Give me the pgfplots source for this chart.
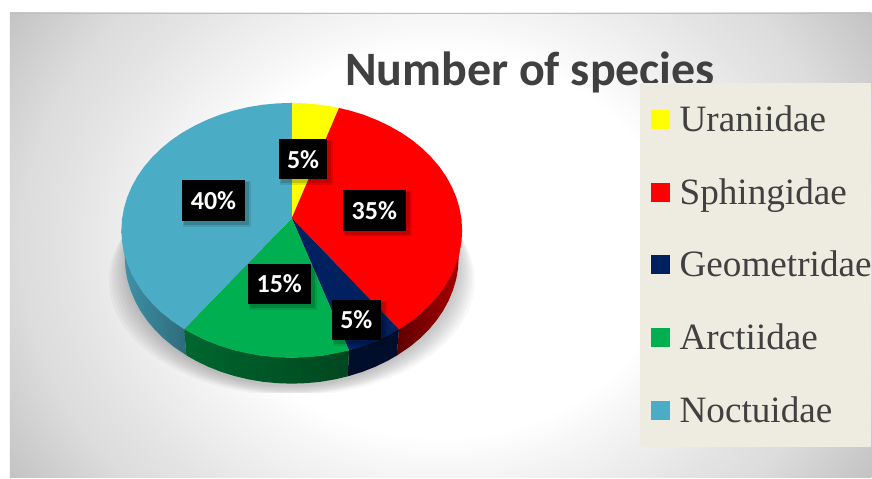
\documentclass[border=0pt]{standalone}
\usepackage{fontspec}
\setmainfont{Liberation Serif}
\newfontfamily\calibri{Carlito}
\usepackage{pgfplots}
\pgfplotsset{compat=1.18}

\definecolor{cYel}{HTML}{FFFF00}
\definecolor{cRed}{HTML}{FF0000}
\definecolor{cNavy}{HTML}{002060}
\definecolor{cGreen}{HTML}{00B050}
\definecolor{cBlue}{HTML}{4BACC6}
\definecolor{cText}{HTML}{404040}
\definecolor{cLegend}{HTML}{EEEBE0}
\definecolor{sRedL}{HTML}{5E0000}
\definecolor{sRedR}{HTML}{AA0000}

% the path's box is the middle 50bp of the shading, so its edge sits at 25bp
\pgfdeclareradialshading{bgshade}{\pgfpoint{0bp}{0bp}}{%
  rgb(0bp)=(1,1,1); rgb(9.6bp)=(1,1,1); rgb(11.25bp)=(.965,.965,.965);
  rgb(15.3bp)=(.894,.894,.894); rgb(17.5bp)=(.863,.863,.863);
  rgb(21.25bp)=(.769,.769,.769); rgb(23.3bp)=(.72,.72,.72);
  rgb(25bp)=(.70,.70,.70); rgb(50bp)=(.70,.70,.70)}

\newcommand{\lab}[5]{% x0 y0 x1 y1 text
  \fill[black,opacity=.10] (axis cs:#1+1,#2+1) rectangle (axis cs:#3+6,#4+6);
  \fill[black,opacity=.15] (axis cs:#1+2,#2+2) rectangle (axis cs:#3+4,#4+4);
  \fill[black] (axis cs:#1,#2) rectangle (axis cs:#3,#4);
  \node[text=white,font=\calibri\bfseries\fontsize{26}{28}\selectfont,inner sep=0pt]
    at (axis cs:{(#1+#3)/2},{(#2+#4)/2}) {#5};
}
\newcommand{\leg}[3]{% swatch top, colour, name
  \fill[#2] (axis cs:652,#1) rectangle (axis cs:671,#1+19);
  \node[anchor=base west,inner sep=0pt,text=cText,font=\fontsize{37.2}{40}\selectfont]
    at (axis cs:680,#1+21.5) {#3};
}
\newcommand{\shad}[3]{% rx ry cy
  \fill[black,opacity=.03] (axis cs:292,#3) ellipse [x radius=#1pt, y radius=#2pt];
}

\begin{document}
\begin{tikzpicture}
\begin{axis}[
    scale only axis,
    width=872pt, height=479pt,
    xmin=0, xmax=872, ymin=0, ymax=479,
    y dir=reverse,
    hide axis,
    clip=false,
    no marks,
  ]
  % page and background
  \fill[white] (axis cs:0,0) rectangle (axis cs:872,479);
  \begin{scope}
    \clip (axis cs:10,13) rectangle (axis cs:872,478);
    \shade[shading=bgshade] (axis cs:440,245) ellipse [x radius=600pt, y radius=500pt];
  \end{scope}
  \draw[color=black!25,line width=1.5pt] (axis cs:10,13.5) -- (axis cs:872,13.5);

  % title goes under the legend box
  \node[anchor=base,inner sep=0pt,text=cText,font=\calibri\bfseries\fontsize{48}{52}\selectfont]
    at (axis cs:530.5,86) {Number of species};
  \fill[cLegend] (axis cs:641,83) rectangle (axis cs:872,447);

  % soft shadow under the pie
  \begin{scope}
    \clip (axis cs:90,230) rectangle (axis cs:490,393);
    \shad{183}{115}{281}
    \shad{180.5}{116.5}{278}
    \shad{178}{118}{275.5}
    \shad{175.5}{119.5}{273}
    \shad{173}{121}{270.5}
    \shad{170.5}{122}{268}
    \shad{168}{123.5}{265}
    \shad{165}{125}{262}
  \end{scope}

  % side walls
  \addplot[draw=none,left color=sRedL,right color=sRedR] coordinates {
    (462.5,230.5) (459.9,252.6) (452.2,274.1) (439.7,294.25) (422.6,312.5) (399.3,329.6)
    (397.1,355.9) (410.1,347.1) (419.9,339) (428.8,330.3) (436.6,321) (443.4,311.2)
    (448.9,301.1) (453.3,290.6) (456.5,279.9) (458.4,269) (459,258)
  } -- cycle;
  \addplot[draw=none,fill=cNavy!45!black] coordinates {
    (399.3,329.6) (377.25,340.9) (349.3,350.6)
    (348,376.7) (362.6,372.2) (375.5,367.1) (387.8,361.2) (397.1,355.9)
  } -- cycle;
  \addplot[draw=none,left color=cGreen!58!black,right color=cGreen!40!black] coordinates {
    (349.3,350.6) (321.6,356.1) (292,358) (262.4,356.1) (233.7,350.3) (206.75,340.9) (184.3,329.3)
    (186.5,355.6) (196.2,361.2) (208.5,367.1) (221.4,372.2) (234.9,376.4) (248.8,379.7)
    (263,382.1) (277.4,383.5) (292,384) (306.6,383.5) (321,382.1) (335.2,379.7) (348,376.7)
  } -- cycle;
  \addplot[draw=none,left color=cBlue!85!black,right color=cBlue!62!black] coordinates {
    (184.3,329.3) (161.4,312.5) (144.3,294.25) (131.8,274.1) (124.1,252.6) (121.5,230.5)
    (125,258) (125.6,269) (127.5,279.9) (130.7,290.6) (135.1,301.1) (140.6,311.2) (147.4,321)
    (155.2,330.3) (164.1,339) (173.9,347.1) (186.5,355.6)
  } -- cycle;

  % top face: Uraniidae 5, Sphingidae 35, Geometridae 5, Arctiidae 15, Noctuidae 40
  \addplot[draw=none,fill=cYel] coordinates {
    (292,218.3) (292,103) (306.9,103.5) (321.6,104.9) (336.1,107.3) (339.3,108)
  } -- cycle;
  \addplot[draw=none,fill=cRed] coordinates {
    (292,218.3) (339.3,108) (350.3,110.7) (364.1,114.9) (377.25,120.1) (389.8,126.1)
    (401.6,132.8) (412.6,140.3) (422.6,148.5) (431.7,157.4) (439.7,166.75) (446.5,176.6)
    (452.2,186.9) (456.7,197.5) (459.9,208.4) (461.9,219.4) (462.5,230.5) (461.9,241.6)
    (459.9,252.6) (456.7,263.5) (452.2,274.1) (446.5,284.4) (439.7,294.25) (431.7,303.6)
    (422.6,312.5) (412.6,320.7) (401.6,328.2) (399.3,329.6)
  } -- cycle;
  \addplot[draw=none,fill=cNavy] coordinates {
    (292,218.3) (399.3,329.6) (389.8,334.9) (377.25,340.9) (364.1,346.1) (349.3,350.6)
  } -- cycle;
  \addplot[draw=none,fill=cGreen] coordinates {
    (292,218.3) (349.3,350.6) (336.1,353.7) (321.6,356.1) (306.9,357.5) (292,358)
    (277.1,357.5) (262.4,356.1) (247.9,353.7) (233.7,350.3) (219.9,346.1) (206.75,340.9)
    (194.2,334.9) (184.3,329.3)
  } -- cycle;
  \addplot[draw=none,fill=cBlue] coordinates {
    (292,218.3) (184.3,329.3) (182.4,328.2) (171.4,320.7) (161.4,312.5) (152.3,303.6)
    (144.3,294.25) (137.5,284.4) (131.8,274.1) (127.3,263.5) (124.1,252.6) (122.1,241.6)
    (121.5,230.5) (122.1,219.4) (124.1,208.4) (127.3,197.5) (131.8,186.9) (137.5,176.6)
    (144.3,166.75) (152.3,157.4) (161.4,148.5) (171.4,140.3) (182.4,132.8) (194.2,126.1)
    (206.75,120.1) (219.9,114.9) (233.7,110.7) (247.9,107.3) (262.4,104.9) (277.1,103.5) (292,103)
  } -- cycle;

  % data labels
  \lab{279}{139.3}{327.7}{179.3}{5\%}
  \lab{182.3}{180}{245}{220.7}{40\%}
  \lab{343.3}{190}{406}{230.7}{35\%}
  \lab{248}{264}{311}{304.7}{15\%}
  \lab{332.3}{300}{381}{340.7}{5\%}

  % legend
  \leg{110}{cYel}{Uraniidae}
  \leg{183}{cRed}{Sphingidae}
  \leg{255}{cNavy}{Geometridae}
  \leg{328}{cGreen}{Arctiidae}
  \leg{401}{cBlue}{Noctuidae}
\end{axis}
\end{tikzpicture}
\end{document}
